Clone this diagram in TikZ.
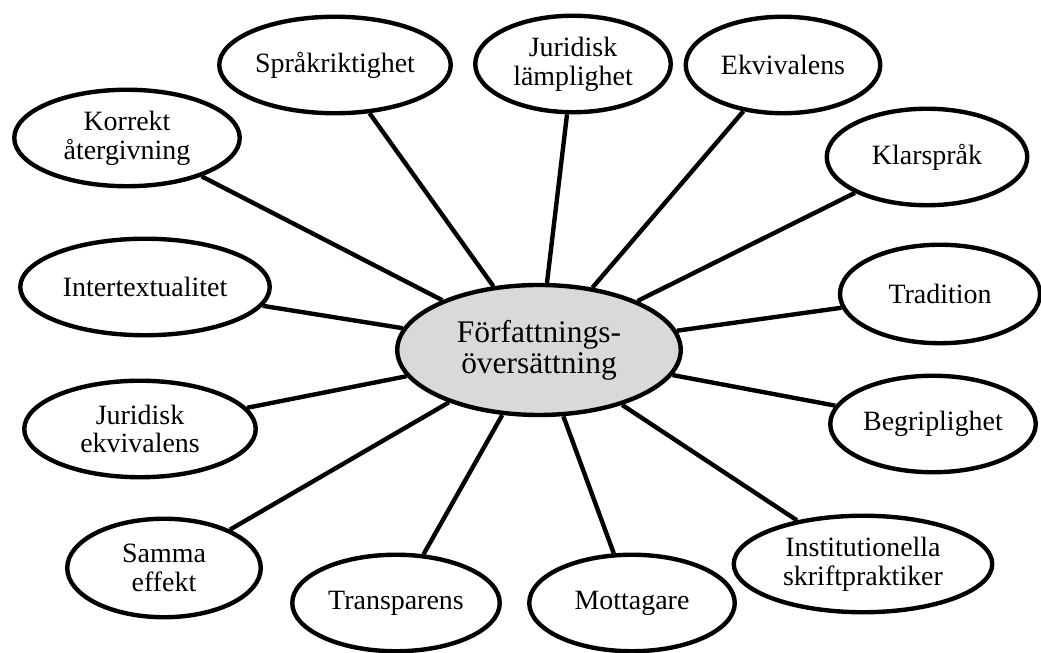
\documentclass[tikz,border=0pt]{standalone}
\usepackage{fontspec}
\setmainfont{Liberation Serif}
\usetikzlibrary{shapes.geometric}

\begin{document}
\begin{tikzpicture}[
  hub/.style={draw, ellipse, line width=2.5pt, fill=gray!30, inner sep=0pt, minimum width=5.67cm, minimum height=2.6cm, align=center, font=\fontsize{17.9}{17.6}\selectfont},
  leaf/.style={draw, ellipse, line width=2.5pt, fill=white, inner sep=0pt, minimum height=1.93cm, align=center, font=\fontsize{15.9}{16.4}\selectfont},
  link/.style={line width=2.5pt}
]
  \useasboundingbox (0,0) rectangle (20.82,13.06);

  \node[hub] (hub) at (10.78,6.06) {Författnings-\\översättning};

  \node[leaf, minimum width=4.51cm] (korr) at (2.54,10.30) {Korrekt\\återgivning};
  \node[leaf, minimum width=4.63cm] (sprak) at (6.70,11.76) {Språkriktighet};
  \node[leaf, minimum width=3.91cm] (jurl) at (11.46,11.78) {Juridisk\\lämplighet};
  \node[leaf, minimum width=3.89cm] (ekv) at (15.66,11.76) {Ekvivalens};
  \node[leaf, minimum width=4.01cm] (klar) at (18.54,9.92) {Klarspråk};
  \node[leaf, minimum width=4.0cm, minimum height=1.97cm] (trad) at (18.80,7.18) {Tradition};
  \node[leaf, minimum width=4.11cm] (begr) at (18.66,4.58) {Begriplighet};
  \node[leaf, minimum width=5.17cm] (inst) at (17.26,1.78) {Institutionella\\skriftpraktiker};
  \node[leaf, minimum width=4.11cm] (mott) at (12.64,1.00) {Mottagare};
  \node[leaf, minimum width=4.15cm] (transp) at (7.92,1.00) {Transparens};
  \node[leaf, minimum width=3.87cm, minimum height=1.97cm] (samma) at (3.28,1.70) {Samma\\effekt};
  \node[leaf, minimum width=4.63cm] (jure) at (2.80,4.48) {Juridisk\\ekvivalens};
  \node[leaf, minimum width=4.99cm] (inter) at (2.90,7.32) {Intertextualitet};

  \foreach \n in {korr,sprak,jurl,ekv,klar,trad,begr,inst,mott,transp,samma,jure,inter}
    \draw[link] (hub) -- (\n);
\end{tikzpicture}
\end{document}
